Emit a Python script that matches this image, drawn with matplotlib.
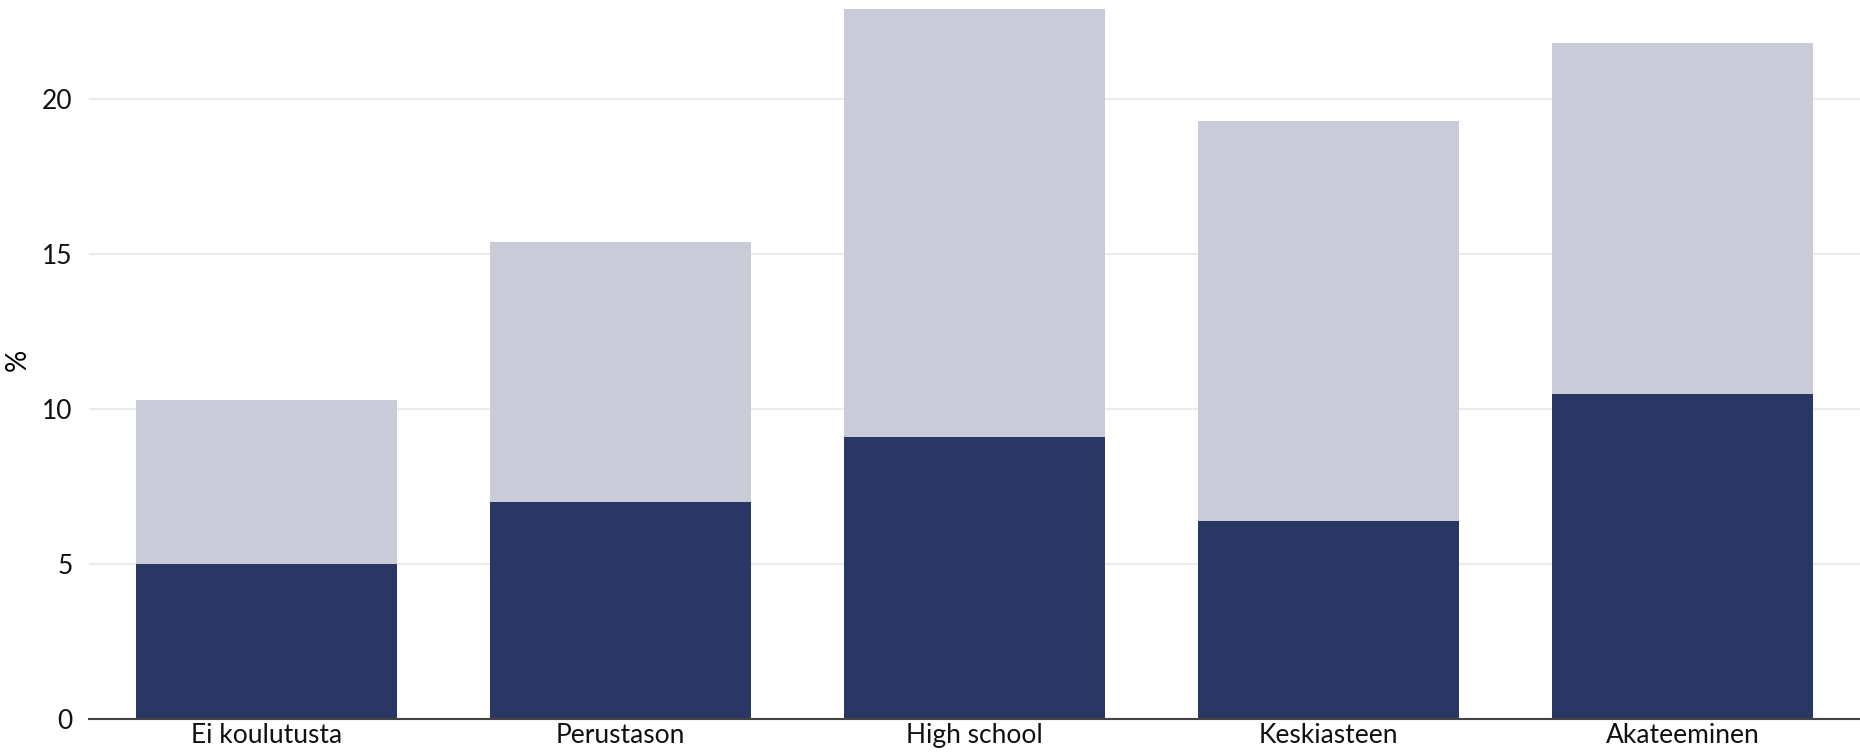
import matplotlib
matplotlib.use("Agg")
import matplotlib.pyplot as plt
import numpy as np

categories = ["Ei koulutusta", "Perustason", "High school", "Keskiasteen", "Akateeminen"]
dark_vals = [5.0, 7.0, 9.1, 6.4, 10.5]
total_vals = [10.3, 15.4, 22.9, 19.3, 21.8]

plt.rcParams['font.family'] = ['Lato', 'DejaVu Sans']

fig = plt.figure(figsize=(18.6, 7.56), dpi=100)
ax = fig.add_axes([0.048, 0.049, 0.952, 0.951])

x = np.arange(len(categories))
dark = np.asarray(dark_vals)
light = np.asarray(total_vals) - dark
ax.bar(x, dark, width=0.737, color="#2a3664", zorder=2)
ax.bar(x, light, bottom=dark, width=0.737, color="#c9ccd8", zorder=2)

ax.set_xlim(-0.5, 4.5)
ax.set_ylim(0, 23.2)
ax.set_yticks([0, 5, 10, 15, 20])
ax.set_xticks(x)
ax.set_xticklabels(categories)
ax.yaxis.grid(True, color="#ebebeb", linewidth=1.5, zorder=0)
ax.set_axisbelow(True)
for s in ["top", "right", "left"]:
    ax.spines[s].set_visible(False)
ax.spines["bottom"].set_color("#444444")
ax.spines["bottom"].set_linewidth(1.5)
ax.spines["bottom"].set_zorder(3)
ax.tick_params(axis="x", length=0, labelsize=19, pad=3, colors="#111111")
ax.tick_params(axis="y", length=0, labelsize=19, pad=12, colors="#111111")
ax.set_ylabel("%", fontsize=20, labelpad=8)

fig.savefig("out.png", dpi=100)
